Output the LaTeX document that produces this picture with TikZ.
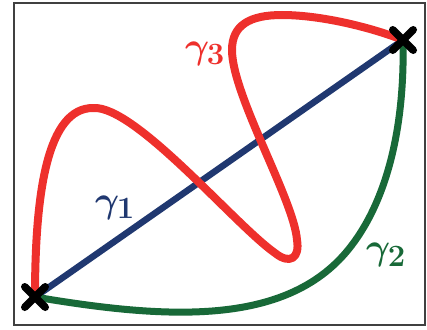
\RequirePackage{fix-cm}
\documentclass[tikz,border=0pt]{standalone}
\usetikzlibrary{shapes.misc}
\DeclareMathSizes{37}{37}{31}{22}
\definecolor{cred}{RGB}{238,48,44}
\definecolor{cblue}{RGB}{32,56,112}
\definecolor{cgreen}{RGB}{24,105,56}
\begin{document}
\begin{tikzpicture}[x=1pt,y=-1pt,
  curve/.style={line width=7pt, line cap=round, line join=round},
  crossmark/.style={draw=black, cross out, minimum size=13pt, inner sep=0pt, line width=7.5pt, line cap=round},
  lbl/.style={inner sep=0pt, font=\fontsize{37}{44}\selectfont\boldmath}]
\useasboundingbox (0,0) rectangle (427,329);
\draw[line width=1.2pt, draw=black!75] (14,3) rectangle (425,325);
\coordinate (A) at (35,297);
\coordinate (B) at (403,40);
\coordinate (M) at (348,250);
\draw[curve, cblue, line width=6.5pt] (A) -- (B);
\draw[curve, cgreen] (A) .. controls (165,319) and (285,327) .. (M)
  .. controls (385.8,203.8) and (405,130) .. (B);
\draw[curve, cred, line width=8pt] (A) .. controls (35,190) and (48,108) .. (93,108)
  .. controls (135,105) and (235,225) .. (275,253)
  .. controls (290,265) and (300,258) .. (297,240)
  .. controls (294,200) and (232,95) .. (232,50)
  .. controls (232,25) and (250,15) .. (282,15)
  .. controls (320,15) and (370,27) .. (B);
\node[crossmark] (XA) at (A) {};
\node[crossmark] (XB) at (B) {};
\node[lbl, text=cblue] (g1) at (115,207.5) {$\gamma_1$};
\node[lbl, text=cgreen] (g2) at (386,255) {$\gamma_2$};
\node[lbl, text=cred] (g3) at (205,53.5) {$\gamma_3$};
\end{tikzpicture}
\end{document}
